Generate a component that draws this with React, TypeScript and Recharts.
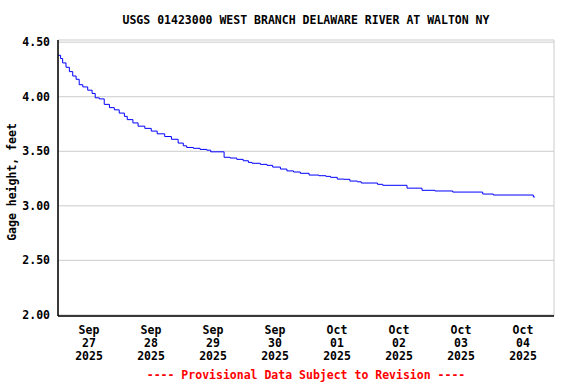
import { LineChart, Line, XAxis, YAxis, CartesianGrid } from 'recharts';

// hours since Sep 27 00:00 and gage height (feet) at each step change
const hours = [
  0, 1.0, 1.8, 3.1, 4.4, 5.7, 7.0, 8.2, 9.6, 11.5, 13.2, 14.4, 16.0, 17.9, 19.9, 21.8, 23.7,
  25.7, 26.8, 29.0, 31.0, 33.6, 36.1, 38.4, 41.3, 43.9, 46.5, 48.5, 49.8, 52.4, 55.0, 57.6,
  59.1, 64.3, 66.6, 69.2, 71.7, 73.7, 75.1, 78.3, 80.9, 83.1, 86.1, 88.6, 91.2, 93.8, 97.2,
  101.0, 103.7, 105.5, 108.1, 110.7, 113.0, 115.9, 117.4, 123.7, 125.7, 135.1, 140.9, 145.9,
  152.8, 164.4, 168.5, 184.0, 184.6,
];
const gage = [
  4.38, 4.35, 4.31, 4.27, 4.23, 4.19, 4.16, 4.11, 4.09, 4.06, 4.03, 3.99, 3.98, 3.93, 3.9, 3.88, 3.85,
  3.82, 3.79, 3.76, 3.73, 3.71, 3.685, 3.66, 3.635, 3.61, 3.575, 3.55, 3.535, 3.527, 3.517, 3.51,
  3.495, 3.445, 3.438, 3.426, 3.413, 3.398, 3.39, 3.38, 3.371, 3.355, 3.337, 3.32, 3.31, 3.298, 3.282,
  3.276, 3.27, 3.261, 3.245, 3.243, 3.227, 3.22, 3.209, 3.197, 3.188, 3.162, 3.142, 3.136,
  3.126, 3.108, 3.099, 3.081, 3.081,
];

const dayMonths = ['Sep', 'Sep', 'Sep', 'Sep', 'Oct', 'Oct', 'Oct', 'Oct'];
const dayNums = ['27', '28', '29', '30', '01', '02', '03', '04'];
const dayYear = '2025';
const yTicks = [2.0, 2.5, 3.0, 3.5, 4.0, 4.5];

const data = hours.map((h, i) => ({ h, v: gage[i] }));
const labelTicks = dayNums.map((_, i) => i * 24 + 12);
const midnightTicks = dayNums.slice(1).map((_, i) => (i + 1) * 24);

const font = '"DejaVu Sans Mono", monospace';

function DayTick({ x, y, index }: any) {
  return (
    <text x={x} y={y} textAnchor="middle" fontFamily={font} fontWeight="bold" fontSize={11.5} fill="#000">
      <tspan x={x} dy={18}>{dayMonths[index]}</tspan>
      <tspan x={x} dy={13}>{dayNums[index]}</tspan>
      <tspan x={x} dy={13}>{dayYear}</tspan>
    </text>
  );
}

export default function App() {
  const txt = { fontFamily: font, fontWeight: 'bold' as const, fontSize: 11.5 };
  return (
    <div style={{ position: 'absolute', left: 0, top: 0, width: 576, height: 384, background: '#fff' }}>
      <div style={{ ...txt, position: 'absolute', left: 0, width: 612, top: 13, textAlign: 'center', color: '#000' }}>
        USGS 01423000 WEST BRANCH DELAWARE RIVER AT WALTON NY
      </div>
      <LineChart width={576} height={384} data={data} margin={{ top: 40, right: 22, bottom: 0, left: 0 }}>
        <CartesianGrid xAxisId="g" yAxisId="v" stroke="#cccccc" strokeWidth={1} />
        <XAxis
          xAxisId="t"
          type="number"
          dataKey="h"
          domain={[0, 192]}
          ticks={labelTicks}
          tick={<DayTick />}
          tickLine={false}
          tickSize={0}
          tickMargin={0}
          axisLine={{ stroke: '#000', strokeWidth: 1.5 }}
          height={68}
          interval={0}
        />
        <XAxis
          xAxisId="g"
          orientation="top"
          type="number"
          dataKey="h"
          domain={[0, 192]}
          ticks={midnightTicks}
          tick={false}
          tickLine={false}
          axisLine={{ stroke: '#000', strokeWidth: 1.5 }}
          height={0}
          interval={0}
        />
        <YAxis
          yAxisId="v"
          type="number"
          domain={[1.99, 4.52]}
          ticks={yTicks}
          tickFormatter={(t: number) => t.toFixed(2)}
          tick={{ ...txt, fill: '#000' }}
          tickLine={false}
          tickSize={0}
          tickMargin={8}
          axisLine={{ stroke: '#000', strokeWidth: 1.5 }}
          width={58}
          interval={0}
          label={{
            value: 'Gage height, feet',
            angle: -90,
            position: 'insideLeft',
            offset: 12,
            dy: 4,
            style: { ...txt, fill: '#000', textAnchor: 'middle' },
          }}
        />
        <YAxis
          yAxisId="r"
          orientation="right"
          type="number"
          domain={[1.99, 4.52]}
          tick={false}
          tickLine={false}
          axisLine={{ stroke: '#000', strokeWidth: 1.5 }}
          width={0}
        />
        <Line
          xAxisId="t"
          yAxisId="v"
          type="stepAfter"
          dataKey="v"
          stroke="#0000ff"
          strokeWidth={1}
          dot={false}
          isAnimationActive={false}
        />
      </LineChart>
      <div style={{ ...txt, position: 'absolute', left: 0, width: 612, top: 368, textAlign: 'center', color: '#ff0000' }}>
        ---- Provisional Data Subject to Revision ----
      </div>
    </div>
  );
}
